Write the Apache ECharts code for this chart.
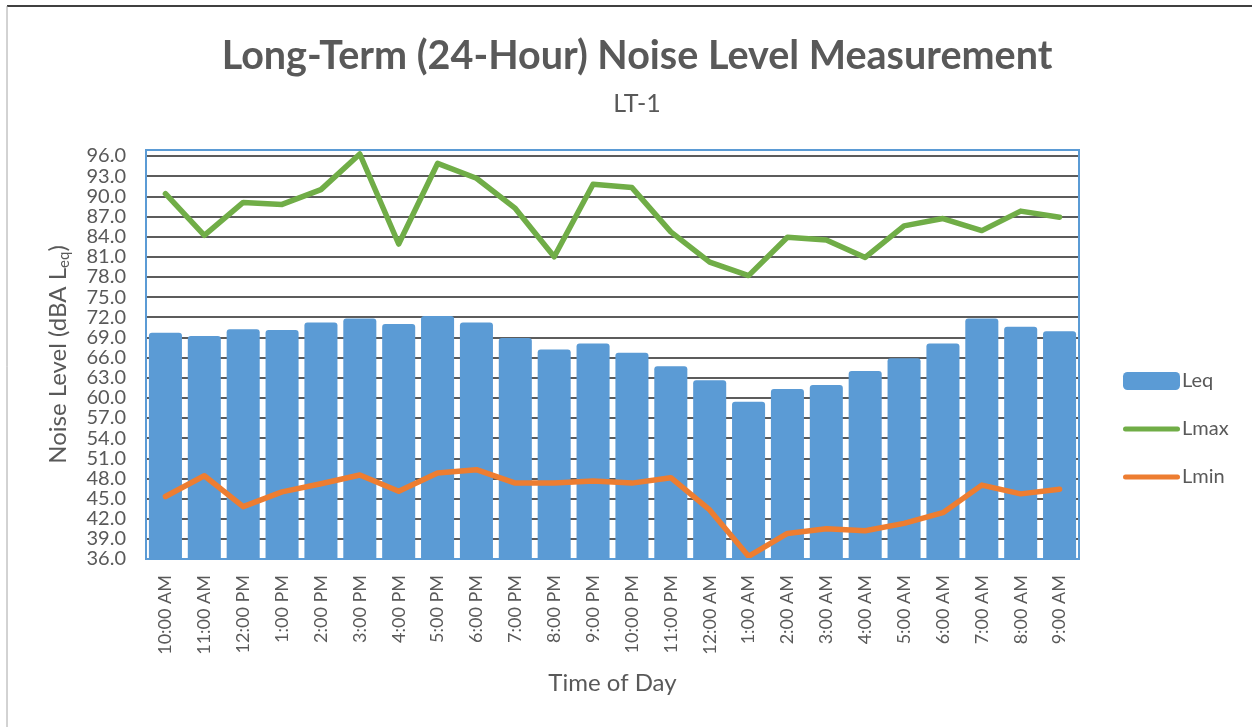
<!DOCTYPE html>
<html>
<head>
<meta charset="utf-8">
<script src="https://cdn.jsdelivr.net/npm/echarts@6/dist/echarts.min.js"></script>
<style>
html,body{margin:0;padding:0;background:#fff;}
#chart{width:1252px;height:727px;}
</style>
</head>
<body>
<div id="chart"></div>
<script>
const categories = ["10:00 AM","11:00 AM","12:00 PM","1:00 PM","2:00 PM","3:00 PM","4:00 PM","5:00 PM","6:00 PM","7:00 PM","8:00 PM","9:00 PM","10:00 PM","11:00 PM","12:00 AM","1:00 AM","2:00 AM","3:00 AM","4:00 AM","5:00 AM","6:00 AM","7:00 AM","8:00 AM","9:00 AM"];
const leq  = [69.7,69.2,70.2,70.1,71.2,71.8,71.0,72.2,71.2,68.9,67.2,68.1,66.7,64.7,62.6,59.4,61.3,61.9,64.0,65.9,68.1,71.8,70.6,69.9];
const lmax = [90.4,84.2,89.1,88.8,91.0,96.3,82.9,94.9,92.7,88.2,81.0,91.8,91.3,84.7,80.2,78.2,83.9,83.5,80.9,85.6,86.7,84.9,87.8,86.9];
const lmin = [45.3,48.4,43.8,46.0,47.2,48.5,46.1,48.8,49.3,47.3,47.3,47.6,47.3,48.1,43.3,36.4,39.8,40.5,40.2,41.3,42.9,47.0,45.7,46.4];
const yMin = 36, yMax = 96.9, yStep = 3;
const seriesNames = ["Leq","Lmax","Lmin"];
const titleText = "Long-Term (24-Hour) Noise Level Measurement";
const subtitleText = "LT-1";
const xName = "Time of Day";

const FONT = "Lato";
const GRAY = "#595959";
const G = {left:146, top:150, right:173, bottom:168};
const lineIcon = 'path://M2.5,0 L54.5,0 A2.5,2.5 0 0 1 54.5,5 L2.5,5 A2.5,2.5 0 0 1 2.5,0 Z';
const chart = echarts.init(document.getElementById('chart'), null, {renderer:'canvas'});
chart.setOption({
  backgroundColor:'#fff',
  animation:false,
  title:[
    {text:titleText, left:632, top:31, textAlign:'center',
     textStyle:{fontFamily:FONT, fontSize:39.5, fontWeight:'bold', color:GRAY}},
    {text:subtitleText, left:632, top:86, textAlign:'center',
     textStyle:{fontFamily:FONT, fontSize:25, fontWeight:'normal', color:GRAY}}
  ],
  graphic:[
    {type:'line', shape:{x1:7,y1:6,x2:1252,y2:6}, style:{stroke:'#000', lineWidth:1.5}, z:100},
    {type:'line', shape:{x1:7,y1:6,x2:7,y2:727}, style:{stroke:'#a6a6a6', lineWidth:1}, z:100},
    {type:'rect', shape:{x:G.left, y:G.top, width:1252-G.left-G.right, height:727-G.top-G.bottom},
     style:{fill:null, stroke:'#5b9bd5', lineWidth:2}, z:100, silent:true}
  ],
  legend:{
    orient:'vertical', left:1118, top:366, itemWidth:57, itemHeight:18, itemGap:28,
    textStyle:{fontFamily:FONT, fontSize:20, color:GRAY, padding:[0,0,0,-3]},
    data:[{name:seriesNames[0], icon:'roundRect'}, {name:seriesNames[1], icon:lineIcon}, {name:seriesNames[2], icon:lineIcon}]
  },
  grid:{left:G.left, right:G.right, top:G.top, bottom:G.bottom, show:false, containLabel:false},
  xAxis:{
    type:'category', data:categories, boundaryGap:true,
    name:xName, nameLocation:'middle', nameGap:112,
    nameTextStyle:{fontFamily:FONT, fontSize:24, color:GRAY},
    axisLine:{show:false}, axisTick:{show:false},
    axisLabel:{rotate:90, fontFamily:FONT, fontSize:18, color:GRAY, margin:16, interval:0}
  },
  yAxis:{
    type:'value', min:yMin, max:yMax, interval:yStep,
    name:'{a|Noise Level (dBA L}{b|eq}{a|)}', nameLocation:'middle', nameGap:74, nameRotate:90,
    nameTextStyle:{rich:{
      a:{fontFamily:FONT, fontSize:24, color:GRAY, lineHeight:28, verticalAlign:'middle'},
      b:{fontFamily:FONT, fontSize:15, color:GRAY, lineHeight:15, verticalAlign:'bottom'}
    }},
    axisLine:{show:false}, axisTick:{show:false},
    axisLabel:{showMaxLabel:false, fontFamily:FONT, fontSize:20, color:GRAY, margin:20,
      formatter:v=>v.toFixed(1)},
    splitLine:{show:true, lineStyle:{color:'#262626', width:1.5}}
  },
  series:[
    {name:seriesNames[0], type:'bar', data:leq, barCategoryGap:'15%',
     itemStyle:{color:'#5b9bd5', borderRadius:[3,3,0,0]}},
    {name:seriesNames[1], type:'line', data:lmax, symbol:'none',
     lineStyle:{color:'#70ad47', width:5.5, cap:'round', join:'round'}, itemStyle:{color:'#70ad47'}},
    {name:seriesNames[2], type:'line', data:lmin, symbol:'none',
     lineStyle:{color:'#ed7d31', width:5.5, cap:'round', join:'round'}, itemStyle:{color:'#ed7d31'}}
  ]
});
</script>
</body>
</html>
